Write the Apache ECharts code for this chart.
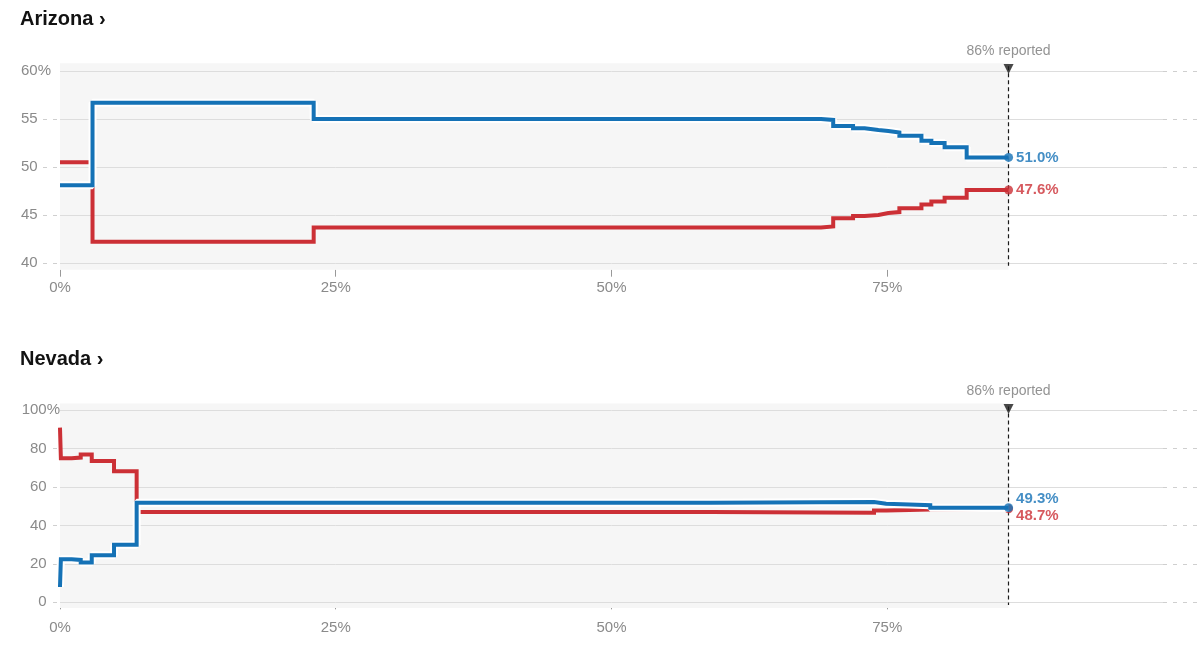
<!DOCTYPE html>
<html><head><meta charset="utf-8">
<script src="https://cdn.jsdelivr.net/npm/echarts@6/dist/echarts.min.js"></script>
<style>html,body{margin:0;padding:0;background:#fff}#c{width:1200px;height:667px}</style>
</head><body><div id="c"></div><script>
// ---------- data ----------
const stateNames = ['Arizona', 'Nevada'];
const reportedPct = [86, 86];
const xTicks = [0, 25, 50, 75];
const azYTicks = [40, 45, 50, 55, 60];
const nvYTicks = [0, 20, 40, 60, 80, 100];

// Arizona: % of expected vote reported -> share (%)
const azPct = [0, 2.95, 23.0, 69.0, 70.1, 71.9, 72.95, 74.2, 75.1, 76.1, 78.1, 79.0, 80.2, 82.2, 86.0];
const azDem = [48.1, 56.7, 55.0, 54.9, 54.27, 54.03, 53.85, 53.75, 53.6, 53.26, 52.74, 52.5, 52.05, 51.0, 51.0];
const azRep = [50.5, 42.2, 43.7, 43.8, 44.65, 44.9, 45.0, 45.2, 45.3, 45.7, 46.1, 46.4, 46.8, 47.6, 47.6];

// Nevada
const nvPct = [0, 0.08, 1.06, 1.88, 2.88, 4.9, 6.95, 59.0, 73.8, 74.9, 77.0, 78.9, 86.0];
const nvDem = [8.0, 22.4, 22.1, 20.8, 24.5, 30.0, 51.8, 52.2, 51.3, 51.0, 50.6, 49.3, 49.3];
const nvRep = [91.0, 75.0, 75.4, 77.0, 73.6, 68.3, 47.1, 46.7, 47.8, 48.1, 48.4, 48.7, 48.7];

// ---------- styling / layout ----------
const FONT = '"Liberation Sans", Arial, Helvetica, sans-serif';
const BLUE = '#1572b6', RED = '#cc3036';
const GRIDC = '#dddddd', BG = '#f6f6f6', AXC = '#8a8a8a';
const XMIN = -1.54, XMAX = 103.4;

const panels = [
  { title: stateNames[0] + ' \u203a', pct: azPct, dem: azDem, rep: azRep, yTicks: azYTicks,
    ymin: 39.3, ymax: 60.8, top: 63.3, height: 206.4, titleTop: 9.5, yMargin: -8, xMargin: 11,
    leftDash: [-1.54, -0.27], triY: 60.2, dashTop: 60.5, dashBot: 39.7,
    demOff: [0, 0], repOff: [0, 0] },
  { title: stateNames[1] + ' \u203a', pct: nvPct, dem: nvDem, rep: nvRep, yTicks: nvYTicks,
    ymin: -3, ymax: 103.6, top: 403.4, height: 204.7, titleTop: 349.5, yMargin: -17, xMargin: 12,
    leftDash: [-0.63, -0.27], triY: 100.7, dashTop: 102, dashBot: -1.4,
    demOff: [0, -9], repOff: [0, 7] }
];

const zip = (xs, ys) => xs.map((x, i) => [x, ys[i]]);

const option = {
  animation: false,
  backgroundColor: '#fff',
  title: panels.map(p => ({
    text: p.title, left: 20, top: p.titleTop, padding: 0,
    textStyle: { fontSize: 20, fontWeight: 'bold', color: '#121212', fontFamily: FONT }
  })),
  grid: panels.map(p => ({ left: 43, width: 1157.5, top: p.top, height: p.height, outerBoundsMode: 'none' })),
  xAxis: panels.map((p, i) => ({
    gridIndex: i, type: 'value', min: XMIN, max: XMAX,
    axisLine: { show: false }, splitLine: { show: false },
    axisTick: { show: true, length: 7, lineStyle: { color: '#999' }, customValues: xTicks },
    axisLabel: { customValues: xTicks, formatter: v => v + '%', color: AXC, fontSize: 15,
      fontFamily: FONT, margin: p.xMargin }
  })),
  yAxis: panels.map((p, i) => {
    const top = p.yTicks[p.yTicks.length - 1];
    return {
      gridIndex: i, type: 'value', min: p.ymin, max: p.ymax,
      axisLine: { show: false }, splitLine: { show: false },
      axisTick: { show: false, customValues: p.yTicks },
      axisLabel: {
        customValues: p.yTicks, margin: p.yMargin, align: 'right',
        formatter: v => v === top ? `{n|${v}}{t|%}` : `{n|${v}}{h|%}`,
        rich: {
          n: { color: AXC, fontSize: 15, fontFamily: FONT },
          t: { color: AXC, fontSize: 15, fontFamily: FONT },
          h: { color: 'rgba(0,0,0,0)', fontSize: 15, fontFamily: FONT }
        }
      }
    };
  }),
  series: []
};

panels.forEach((p, i) => {
  const topTick = p.yTicks[p.yTicks.length - 1];
  const last = p.pct.length - 1;
  // background + solid gridlines
  option.series.push({
    type: 'line', xAxisIndex: i, yAxisIndex: i, data: [], silent: true, z: 1,
    markArea: { silent: true, z: 0.5, itemStyle: { color: BG },
      data: [[{ coord: [0, p.ymin] }, { coord: [reportedPct[i], p.ymax] }]] },
    markLine: { silent: true, z: 1, symbol: 'none', label: { show: false },
      lineStyle: { color: GRIDC, width: 1, type: 'solid' },
      data: p.yTicks.map(v => [{ coord: [0, v] }, { coord: [100, v] }]) }
  });
  // dotted extensions
  option.series.push({
    type: 'line', xAxisIndex: i, yAxisIndex: i, data: [], silent: true, z: 1,
    markLine: { silent: true, z: 1, symbol: 'none', label: { show: false },
      lineStyle: { color: '#cfcfcf', width: 1, type: [4, 6] },
      data: p.yTicks.map(v => [{ coord: [100, v] }, { coord: [XMAX, v] }])
        .concat(p.yTicks.filter(v => v !== topTick).map(v => [{ coord: [p.leftDash[0], v] }, { coord: [p.leftDash[1], v] }])) }
  });
  // Republican line
  option.series.push({
    type: 'line', xAxisIndex: i, yAxisIndex: i, step: 'end', showSymbol: false, silent: true, z: 2,
    data: zip(p.pct, p.rep), lineStyle: { color: RED, width: 4, cap: 'butt', join: 'miter' }, itemStyle: { color: RED }
  });
  // Republican end dot
  option.series.push({
    type: 'scatter', xAxisIndex: i, yAxisIndex: i, silent: true, z: 2.5, symbolSize: 9,
    data: [[p.pct[last], p.rep[last]]], itemStyle: { color: RED },
    label: { show: true, position: 'right', distance: 3, offset: p.repOff,
      formatter: d => d.value[1].toFixed(1) + '%', color: RED, fontWeight: 'bold', fontSize: 15, fontFamily: FONT }
  });
  // reported marker + dashed line
  option.series.push({
    type: 'scatter', xAxisIndex: i, yAxisIndex: i, silent: true, z: 6,
    symbol: 'triangle', symbolRotate: 180, symbolSize: [10, 10],
    data: [[reportedPct[i], p.triY]], itemStyle: { color: '#1a1a1a' },
    label: { show: true, position: 'top', distance: 6, formatter: reportedPct[i] + '% reported',
      color: '#777', fontSize: 14, fontFamily: FONT },
    markLine: { silent: true, z: 1.8, symbol: 'none', label: { show: false },
      lineStyle: { color: '#1a1a1a', width: 1.2, type: [4, 3] },
      data: [[{ coord: [reportedPct[i], p.dashTop] }, { coord: [reportedPct[i], p.dashBot] }]] }
  });
  // Democratic casing + line
  option.series.push({
    type: 'line', xAxisIndex: i, yAxisIndex: i, step: 'end', showSymbol: false, silent: true, z: 3,
    data: zip(p.pct, p.dem), lineStyle: { color: '#ffffff', width: 8, cap: 'butt' }
  });
  option.series.push({
    type: 'line', xAxisIndex: i, yAxisIndex: i, step: 'end', showSymbol: false, silent: true, z: 4,
    data: zip(p.pct, p.dem), lineStyle: { color: BLUE, width: 4, cap: 'butt', join: 'miter' }, itemStyle: { color: BLUE }
  });
  option.series.push({
    type: 'scatter', xAxisIndex: i, yAxisIndex: i, silent: true, z: 5, symbolSize: 9,
    data: [[p.pct[last], p.dem[last]]], itemStyle: { color: BLUE },
    label: { show: true, position: 'right', distance: 3, offset: p.demOff,
      formatter: d => d.value[1].toFixed(1) + '%', color: BLUE, fontWeight: 'bold', fontSize: 15, fontFamily: FONT }
  });
});

const chart = echarts.init(document.getElementById('c'), null, { renderer: 'canvas' });
chart.setOption(option);
</script></body></html>
